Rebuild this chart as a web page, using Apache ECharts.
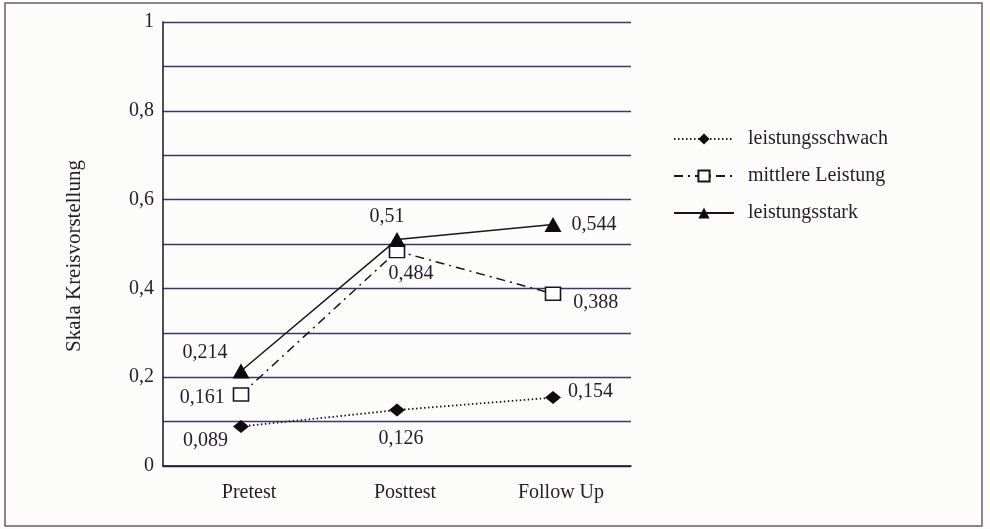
<!DOCTYPE html>
<html>
<head>
<meta charset="utf-8">
<script src="https://cdn.jsdelivr.net/npm/echarts@6/dist/echarts.min.js"></script>
<style>
html,body{margin:0;padding:0;background:#fcfcfb;}
#c{width:990px;height:529px;}
</style>
</head>
<body>
<div id="c"></div>
<script>
const categories = ['Pretest', 'Posttest', 'Follow Up'];
const seriesNames = ['leistungsschwach', 'mittlere Leistung', 'leistungsstark'];
const schwach = [0.089, 0.126, 0.154];
const mittel = [0.161, 0.484, 0.388];
const stark = [0.214, 0.51, 0.544];
const yTicks = [0, 0.2, 0.4, 0.6, 0.8, 1];

const FONT = 'Liberation Serif';
const TXT = '#231c2c';
const fmt = v => String(Math.round(v * 1000) / 1000).replace('.', ',');

function pts(values, labelCfg) {
  return values.map((v, i) => ({
    value: v,
    label: Object.assign({ show: true, formatter: p => fmt(p.value) }, labelCfg[i])
  }));
}

const labelBase = { fontFamily: FONT, fontSize: 20, color: TXT };

const chart = echarts.init(document.getElementById('c'), null, { renderer: 'canvas' });
chart.setOption({
  backgroundColor: '#fcfcfb',
  animation: false,
  textStyle: { fontFamily: FONT, color: TXT },
  graphic: [{
    type: 'rect', shape: { x: 5, y: 3, width: 977, height: 523 },
    style: { fill: 'none', stroke: '#6a5a78', lineWidth: 1.5 }, silent: true
  }],
  grid: { left: 163, top: 22, width: 468, height: 444 },
  legend: {
    left: 668, top: 124, orient: 'vertical', itemWidth: 60, itemHeight: 14, itemGap: 17,
    textStyle: { fontFamily: FONT, fontSize: 20, color: TXT, padding: [0, 0, 0, 9] },
    data: seriesNames
  },
  xAxis: {
    type: 'category', data: categories, boundaryGap: true,
    axisLine: { lineStyle: { color: '#1a1420', width: 1.5 } },
    axisTick: { show: false },
    axisLabel: { fontFamily: FONT, fontSize: 20, color: TXT, margin: 17, padding: [0, 0, 0, 16] }
  },
  yAxis: {
    type: 'value', min: 0, max: 1, interval: 0.1,
    name: 'Skala Kreisvorstellung', nameLocation: 'middle', nameGap: 78,
    nameTextStyle: { fontFamily: FONT, fontSize: 21, color: TXT, padding: [0, 24, 0, 0] },
    axisLine: { show: true, lineStyle: { color: '#1a1420', width: 1.5 } },
    axisTick: { show: false },
    splitLine: { lineStyle: { color: '#3a3468', width: 1.3 } },
    axisLabel: {
      fontFamily: FONT, fontSize: 20, color: TXT, margin: 9,
      formatter: v => yTicks.some(t => Math.abs(t - v) < 1e-6) ? fmt(v) : ''
    }
  },
  series: [
    {
      name: seriesNames[0], type: 'line', data: pts(schwach, [
        Object.assign({ position: 'left', offset: [0, 14] }, labelBase),
        Object.assign({ position: 'bottom', offset: [4, 7] }, labelBase),
        Object.assign({ position: 'right', offset: [2, -6] }, labelBase)
      ]),
      symbol: 'diamond', symbolSize: [16, 13],
      itemStyle: { color: '#0d0a10' },
      lineStyle: { color: '#1a1420', width: 1.8, type: [1.5, 2.5] }
    },
    {
      name: seriesNames[1], type: 'line', data: pts(mittel, [
        Object.assign({ position: 'left', offset: [-3, 3] }, labelBase),
        Object.assign({ position: 'bottom', offset: [14, 0] }, labelBase),
        Object.assign({ position: 'right', offset: [7, 9] }, labelBase)
      ]),
      symbol: 'rect', symbolSize: [15, 13],
      itemStyle: { color: '#ffffff', borderColor: '#1a1420', borderWidth: 1.5 },
      lineStyle: { color: '#1a1420', width: 1.5, type: [9, 5, 2, 5] }
    },
    {
      name: seriesNames[2], type: 'line', data: pts(stark, [
        Object.assign({ position: 'left', offset: [0, -18] }, labelBase),
        Object.assign({ position: 'top', offset: [-10, 0] }, labelBase),
        Object.assign({ position: 'right', offset: [5, 0] }, labelBase)
      ]),
      symbol: 'triangle', symbolSize: [17, 15],
      itemStyle: { color: '#0d0a10' },
      lineStyle: { color: '#1a1420', width: 1.5, type: 'solid' }
    }
  ]
});
</script>
</body>
</html>
